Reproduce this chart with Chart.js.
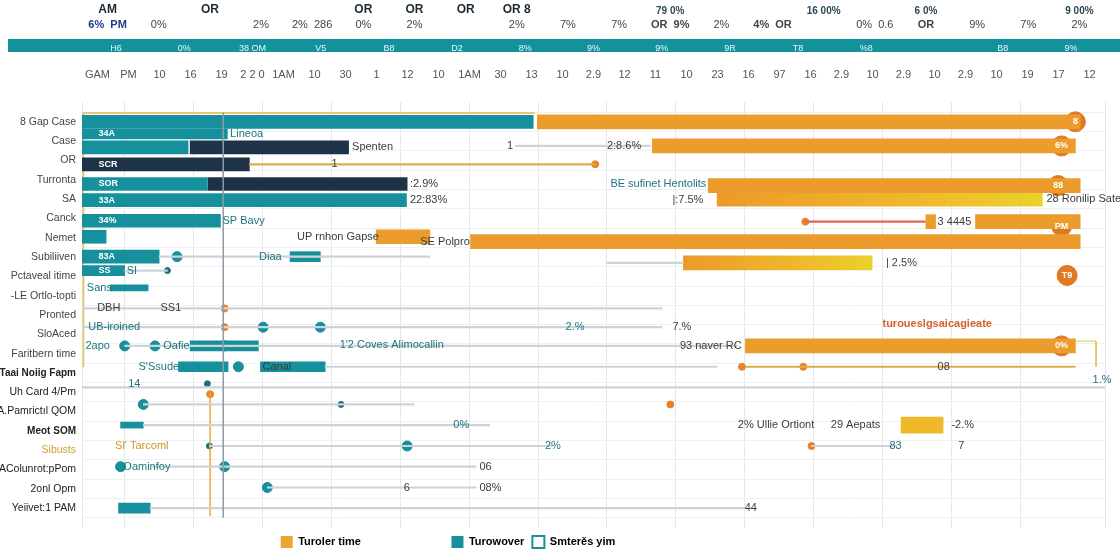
<!DOCTYPE html>
<html>
<head>
<meta charset="utf-8">
<script src="https://cdn.jsdelivr.net/npm/chart.js@4.4.1/dist/chart.umd.min.js"></script>
<style>
  html, body { margin: 0; padding: 0; background: #fff; }
  #wrap { width: 1120px; height: 560px; }
</style>
</head>
<body>
<div id="wrap"><canvas id="gantt" width="1120" height="560"></canvas></div>
<script>
// row names (top to bottom)
const rowLabels = ['8 Gap Case', 'Case', 'OR', 'Turronta', 'SA', 'Canck', 'Nemet', 'Subiliiven',
  'Pctaveal itime', '-LE Ortlo-topti', 'Pronted', 'SloAced', 'Faritbern time', 'Taai Noiig Fapm',
  'Uh Card 4/Pm', 'A.Pamrictıl QOM', 'Meot SOM', 'Sibusts', 'AColunrot:pPom', '2onl Opm', 'Yeiivet:1 PAM'];

// header rows
const rowOneTop = ['AM', '', 'OR', '', '', 'OR', 'OR', 'OR', 'OR 8', '', '', '79 0%', '', '', '16 00%', '', '6 0%', '', '', '9 00%'];
const rowOneBottom = ['6%  PM', '0%', '', '2%', '2%  286', '0%', '2%', '', '2%', '7%', '7%', 'OR  9%', '2%', '4%  OR', '', '0%  0.6', 'OR', '9%', '7%', '2%'];
const bandLabels = ['H6', '0%', '38 OM', 'V5', 'B8', 'D2', '8%', '9%', '9%', '9R', 'T8', '%8', '', 'B8', '9%'];
const rowThreeLabels = ['GAM', 'PM', '10', '16', '19', '2 2 0', '1AM', '10', '30', '1', '12', '10', '1AM', '30', '13',
  '10', '2.9', '12', '11', '10', '23', '16', '97', '16', '2.9', '10', '2.9', '10', '2.9', '10', '19', '17', '12'];

// bars: [start, end, row]
const tealBars = [[0.38, 6.93, 0], [0.38, 1.92, 1.32], [0.38, 2.2, 3.22], [0.38, 5.09, 4.05],
  [0.38, 2.39, 5.12], [0.38, 0.73, 5.95], [0.38, 1.5, 6.98]];
const tealSlimBars = [[0.38, 2.49, 0.63], [0.38, 1.0, 7.7], [1.95, 2.94, 11.6], [1.78, 2.5, 12.68],
  [2.97, 3.91, 12.68], [3.4, 3.84, 6.98], [0.91, 1.37, 20]];
const tealThinBars = [[0.79, 1.34, 8.6], [0.94, 1.27, 15.7]];
const navyBars = [[1.95, 4.25, 1.32], [0.38, 2.81, 2.2], [2.21, 5.1, 3.22]];
const orangeBars = [[6.99, 14.87, 0], [8.66, 14.8, 1.25], [9.47, 14.87, 3.3], [13.35, 14.87, 5.17],
  [12.63, 12.77, 5.17], [4.65, 5.43, 5.95], [6.02, 14.87, 6.2], [10.01, 14.8, 11.6]];
const warmBars = [[9.6, 14.32, 4.0], [9.11, 11.85, 7.3]];
const yellowBars = [[12.27, 12.88, 15.7]];

// connector lines: [start, end, row]
const greyLinks = [[6.67, 8.63, 1.25], [1.5, 5.43, 6.98], [8.0, 9.11, 7.3], [1.0, 1.62, 7.7],
  [0.38, 8.8, 9.66], [0.38, 8.8, 10.63], [1.0, 9.9, 11.6], [3.91, 9.6, 12.68], [0.38, 15.23, 13.75],
  [1.27, 5.2, 14.63], [1.27, 6.3, 15.7], [2.23, 7.2, 16.78], [10.97, 12.2, 16.78],
  [1.4, 6.1, 17.85], [3.07, 6.1, 18.93], [1.37, 10.0, 20]];
const goldLinks = [[2.81, 7.83, 2.2], [10.01, 14.8, 12.68]];
const redLinks = [[10.88, 12.62, 5.17]];

// points: [x, row]
const tealDots = [[1.76, 6.98], [3.01, 10.63], [3.84, 10.63], [1.0, 11.6], [1.44, 11.6], [2.45, 11.6],
  [2.65, 12.68], [1.27, 14.63], [5.1, 16.78], [0.94, 17.85], [2.45, 17.85], [3.07, 18.93]];
const tealSmallDots = [[1.62, 7.7], [4.14, 14.63], [2.23, 16.78], [2.2, 13.56]];
const orangeDots = [[7.83, 2.2], [2.45, 9.66], [2.45, 10.63], [8.92, 14.63], [9.96, 12.68],
  [10.85, 12.68], [10.97, 16.78], [2.24, 14.1], [10.88, 5.17]];
const badges = [[14.8, 0, '8'], [14.6, 1.25, '6%'], [14.55, 3.3, '88'], [14.6, 5.4, 'PM'],
  [14.68, 7.95, 'T9'], [14.6, 11.6, '0%']];

// guide lines
const nowLine = [[2.43, -0.5], [2.43, 20.5]];
const frameLine = [[6.95, -0.45], [0.4, -0.45], [0.4, 12.7]];
const markLine = [[2.24, 13.9], [2.24, 20.4]];
const boxLine = [[10.01, 11.35], [15.1, 11.35], [15.1, 12.68]];

// text notes: [kind, x, row, text]
const notes = [
  ['in', 0.62, 0.63, '34A'], ['tl', 2.53, 0.63, 'Lineoa'], ['dk', 4.3, 1.32, 'Spenten'],
  ['dk', 6.55, 1.25, '1'], ['dk', 8.0, 1.25, '2:8.6%'], ['in', 0.62, 2.2, 'SCR'], ['dk', 4.0, 2.2, '1'],
  ['in', 0.62, 3.22, 'SOR'], ['dk', 5.14, 3.22, ':2.9%'], ['tl', 8.05, 3.22, 'BE sufinet Hentolits'],
  ['in', 0.62, 4.05, '33A'], ['dk', 5.14, 4.05, '22:83%'], ['dk', 8.95, 4.05, '|:7.5%'],
  ['dk', 14.38, 4.0, '28 Ronilip Sate'], ['in', 0.62, 5.12, '34%'], ['tl', 2.42, 5.12, 'SP Bavy'],
  ['dk', 12.8, 5.17, '3 4445'], ['dk', 3.5, 5.95, 'UP rnhon Gapse'], ['dk', 5.29, 6.2, 'SE Polpro'],
  ['in', 0.62, 6.98, '83A'], ['tl', 2.95, 6.98, 'Diaa'], ['dk', 12.05, 7.3, '| 2.5%'],
  ['in', 0.62, 7.7, 'SS'], ['tl', 1.03, 7.7, 'SI'], ['tl', 0.45, 8.6, 'Sans'],
  ['dk', 0.6, 9.66, 'DBH'], ['dk', 1.52, 9.66, 'SS1'], ['tl', 0.47, 10.63, 'UB-iroined'],
  ['tl', 7.4, 10.63, '2.%'], ['dk', 8.95, 10.63, '7.%'], ['or', 12.0, 10.45, 'turoueslgsaicagieate'],
  ['tl', 0.43, 11.6, '2apo'], ['tl', 1.56, 11.6, 'Oafie'], ['tl', 4.12, 11.55, "1'2 Coves Alimocallin"],
  ['dk', 9.06, 11.6, '93 naver RC'], ['tl', 1.2, 12.68, "S'Ssude"], ['dk', 3.0, 12.68, 'Canal'],
  ['dk', 12.8, 12.68, '08'], ['tl', 1.05, 13.56, '14'], ['tl', 15.05, 13.35, '1.%'],
  ['tl', 5.77, 15.7, '0%'], ['dk', 9.9, 15.7, '2% Ullie Ortiont'], ['dk', 11.25, 15.7, '29 Aepats'],
  ['dk', 13.0, 15.7, '-2.%'], ['gd', 0.86, 16.78, "Sl' Tarcoml"], ['tl', 7.1, 16.78, '2%'],
  ['tl', 12.1, 16.78, '83'], ['dk', 13.1, 16.78, '7'], ['tl', 0.98, 17.85, 'Oaminfoy'],
  ['dk', 6.15, 17.85, '06'], ['dk', 5.05, 18.93, '6'], ['dk', 6.15, 18.93, '08%'], ['dk', 10.0, 20, '44']
];

const legendNames = ['Turoler time', 'Turowover', 'Smterěs yim'];

const TEAL = '#16909c';
const NAVY = '#1e3348';
const ORANGE = '#eb9c2c';
const FONT = '"Liberation Sans", Arial, sans-serif';

Chart.defaults.font.family = FONT;
Chart.defaults.color = '#3a3a3a';

const toBars = list => list.map(b => ({ x: [b[0], b[1]], y: b[2] }));
const toPts = list => list.map(p => ({ x: p[0], y: p[1] }));

function barSet(label, list, color, thickness) {
  return {
    type: 'bar', label: label, data: toBars(list), backgroundColor: color,
    barThickness: thickness, grouped: false, borderSkipped: false, borderWidth: 0,
    xAxisID: 'x', yAxisID: 'y'
  };
}

function lineSet(list, color, width) {
  return {
    type: 'line', data: toPts(list), borderColor: color, borderWidth: width,
    pointRadius: 0, fill: false, tension: 0, clip: false, xAxisID: 'x', yAxisID: 'y'
  };
}

function dotSet(list, color, radius) {
  return {
    type: 'scatter', data: toPts(list), backgroundColor: color, borderColor: color,
    pointRadius: radius, xAxisID: 'x', yAxisID: 'y'
  };
}

function warmFill(ctx) {
  const chart = ctx.chart;
  if (!chart.chartArea || ctx.type !== 'data' || !ctx.raw) return '#eea62e';
  const xs = chart.scales.x;
  const g = chart.ctx.createLinearGradient(xs.getPixelForValue(ctx.raw.x[0]), 0, xs.getPixelForValue(ctx.raw.x[1]), 0);
  g.addColorStop(0, '#ec9a2a');
  g.addColorStop(0.75, '#efc02c');
  g.addColorStop(1, '#e9d22a');
  return g;
}

// teal band behind the second header row
const headerBand = {
  id: 'headerBand',
  beforeDraw(chart) {
    const s = chart.scales.band;
    const c = chart.ctx;
    c.save();
    c.fillStyle = '#13929d';
    c.fillRect(8, s.top + 5, chart.width - 8, 13);
    c.restore();
  }
};

// text notes and badge labels
const noteStyles = {
  in: { color: '#ffffff', font: 'bold 9px ' + FONT },
  dk: { color: '#3b3b3b', font: '11px ' + FONT },
  tl: { color: '#1d7480', font: '11px ' + FONT },
  or: { color: '#d2602a', font: 'bold 11px ' + FONT },
  gd: { color: '#c99a25', font: '11px ' + FONT }
};

const notesPlugin = {
  id: 'notesPlugin',
  afterDatasetsDraw(chart) {
    const xs = chart.scales.x, ys = chart.scales.y, c = chart.ctx;
    c.save();
    c.textBaseline = 'middle';
    c.textAlign = 'left';
    notes.forEach(n => {
      const st = noteStyles[n[0]];
      c.fillStyle = st.color;
      c.font = st.font;
      c.fillText(n[3], xs.getPixelForValue(n[1]), ys.getPixelForValue(n[2]));
    });
    c.font = 'bold 9px ' + FONT;
    c.fillStyle = '#ffffff';
    c.textAlign = 'center';
    badges.forEach(b => {
      c.fillText(b[2], xs.getPixelForValue(b[0]), ys.getPixelForValue(b[1]));
    });
    c.restore();
  }
};

function headerAxis(labels, weight, height, padding, fontFn, colorFn) {
  return {
    type: 'category', axis: 'x', position: 'top', labels: labels, weight: weight, offset: true,
    grid: { display: false, drawTicks: false }, border: { display: false },
    ticks: { autoSkip: false, maxRotation: 0, padding: padding, font: fontFn, color: colorFn },
    afterFit: s => { s.height = height; }
  };
}

// pad the legend so it sits left of centre like the original
const EN = '\u2002';
const legendText = [legendNames[0] + EN.repeat(15), legendNames[1], legendNames[2] + EN.repeat(38)];

const ctx = document.getElementById('gantt');
new Chart(ctx, {
  type: 'bar',
  data: {
    datasets: [
      lineSet(nowLine, '#8f9ca5', 1.5),
      barSet('grey', greyLinks, '#cdd4d8', 1.5),
      barSet('gold', goldLinks, '#d8b048', 1.5),
      barSet('red', redLinks, '#e2654f', 1.5),
      barSet('teal', tealBars, TEAL, 13),
      barSet('tealSlim', tealSlimBars, TEAL, 10),
      barSet('tealThin', tealThinBars, TEAL, 6),
      barSet('navy', navyBars, NAVY, 13),
      barSet('orange', orangeBars, ORANGE, 14),
      barSet('warm', warmBars, warmFill, 14),
      barSet('yellow', yellowBars, '#f0b92a', 16),
      lineSet(frameLine, '#e6c870', 2),
      lineSet(markLine, '#eaa73c', 1.5),
      lineSet(boxLine, '#e2c35a', 1),
      dotSet(tealDots, TEAL, 5),
      dotSet(tealSmallDots, '#1d6f7d', 3),
      dotSet(orangeDots, '#e9822a', 3.5),
      dotSet(badges, '#e07a22', 10)
    ]
  },
  options: {
    indexAxis: 'y',
    responsive: false,
    animation: false,
    layout: { padding: { top: 0, right: 15, bottom: 2, left: 0 } },
    plugins: {
      legend: {
        position: 'bottom',
        onClick: null,
        labels: {
          boxWidth: 12, boxHeight: 12, padding: 8, color: '#333',
          font: { size: 11, weight: 'bold' },
          generateLabels: () => legendText.map((t, i) => ({
            text: t,
            fillStyle: ['#eda52f', TEAL, '#ffffff'][i],
            strokeStyle: ['#eda52f', TEAL, TEAL][i],
            lineWidth: i === 2 ? 2 : 0,
            hidden: false,
            datasetIndex: i
          }))
        }
      },
      tooltip: { enabled: false }
    },
    scales: {
      x: {
        type: 'linear', position: 'bottom', min: 0.38, max: 15.23,
        ticks: { display: false, stepSize: 1 },
        grid: { color: '#e4e8eb', drawTicks: false },
        border: { display: false }
      },
      y: {
        type: 'linear', reverse: true, min: -0.5, max: 20.5,
        afterBuildTicks: s => { s.ticks = rowLabels.map((_, i) => ({ value: i })); },
        ticks: {
          autoSkip: false, padding: 6,
          callback: v => rowLabels[v],
          color: c => rowLabels[c.index] === 'Sibusts' ? '#cf9f2a' : (c.index >= 13 ? '#222' : '#444'),
          font: c => (c.index === 13 || c.index === 16) ? { size: 10, weight: 'bold' } : { size: 10.5 }
        },
        grid: { color: '#eef1f3', drawTicks: false },
        border: { display: false },
        afterFit: s => { s.width = 82; }
      },
      rowThree: headerAxis(rowThreeLabels, 0, 44, 20, { size: 11 }, '#555'),
      band: headerAxis(bandLabels, 1, 24, 4, { size: 9 }, '#e8f6f7'),
      rowOneB: headerAxis(rowOneBottom, 2, 17, 2,
        c => ({ size: 11, weight: /OR|PM/.test(c.tick.label) ? 'bold' : 'normal' }),
        c => /PM/.test(c.tick.label) ? '#1f3b8a' : '#444'),
      rowOneA: headerAxis(rowOneTop, 3, 17, 0,
        c => ({ size: /%/.test(c.tick.label) ? 10 : 12, weight: 'bold' }),
        c => /%/.test(c.tick.label) ? '#2d4756' : '#1c2a33')
    }
  },
  plugins: [headerBand, notesPlugin]
});
</script>
</body>
</html>
